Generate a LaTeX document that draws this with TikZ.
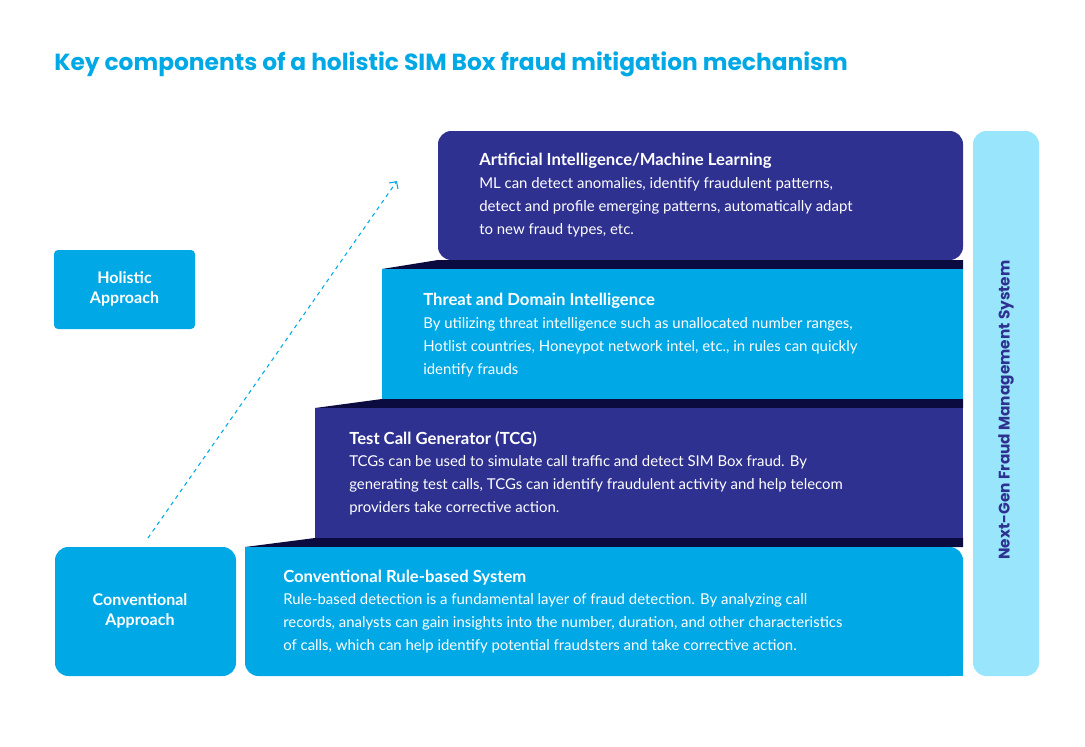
\documentclass[tikz,border=0pt]{standalone}
\usepackage{fontspec}
\setmainfont{Lato}
\newfontfamily\tf{Poppins}
\usetikzlibrary{arrows.meta}
\definecolor{navy}{HTML}{2E3190}
\definecolor{sky}{HTML}{00A9E6}
\definecolor{band}{HTML}{0B0B40}
\definecolor{pale}{HTML}{99E5FC}
\begin{document}
\begin{tikzpicture}[x=0.75pt,y=-0.75pt,
  txt/.style={anchor=west,text=white,align=left,inner sep=0pt,font=\fontsize{11.2}{17.25}\selectfont},
  hd/.style={anchor=west,text=white,inner sep=0pt,font=\fontsize{12.5}{15}\selectfont\bfseries},
  side/.style={text=white,align=center,font=\fontsize{12}{15}\selectfont\bfseries}]
\useasboundingbox (0,0) rectangle (1085,746);
\node[anchor=west,text=sky,inner sep=0pt,font=\tf\fontsize{17.5}{20}\selectfont\bfseries] (title) at (54,64) {Key components of a holistic SIM Box fraud mitigation mechanism};
% right bar
\fill[pale,rounded corners=10] (973,131) rectangle (1039,676);
\node[rotate=90,text=navy,font=\tf\fontsize{11.5}{14}\selectfont\bfseries] (ng) at (1006,410) {Next-Gen Fraud Management System};
% steps
\fill[navy,rounded corners=10] (438,260) -- (438,131) -- (963,131) -- (963,260) -- cycle;
\fill[band] (382,269) -- (438,260) -- (963,260) -- (963,269) -- cycle;
\fill[sky] (382,269) rectangle (963,399);
\fill[band] (315,408) -- (382,399) -- (963,399) -- (963,408) -- cycle;
\fill[navy] (315,408) rectangle (963,538);
\fill[band] (245,547) -- (315,538) -- (963,538) -- (963,547) -- cycle;
\fill[sky,rounded corners=10] (245,547) -- (245,676) -- (963,676) -- (963,547) -- cycle;
\fill[sky] (245,547) rectangle (260,560);
\fill[sky] (950,660) rectangle (963,676);
% texts
\node[hd] (h1) at (479,161) {Artificial Intelligence/Machine Learning};
\node[txt,anchor=north west] (b1) at (479,177) {ML can detect anomalies, identify fraudulent patterns,\\detect and profile emerging patterns, automatically adapt\\to new fraud types, etc.};
\node[hd] (h2) at (423,301) {Threat and Domain Intelligence};
\node[txt,anchor=north west] (b2) at (423,317) {By utilizing threat intelligence such as unallocated number ranges,\\Hotlist countries, Honeypot network intel, etc., in rules can quickly\\identify frauds};
\node[hd] (h3) at (349,439) {Test Call Generator (TCG)};
\node[txt,anchor=north west] (b3) at (349,455) {TCGs can be used to simulate call traffic and detect SIM Box fraud. By\\generating test calls, TCGs can identify fraudulent activity and help telecom\\providers take corrective action.};
\node[hd] (h4) at (283,578) {Conventional Rule-based System};
\node[txt,anchor=north west] (b4) at (283,593) {Rule-based detection is a fundamental layer of fraud detection. By analyzing call\\records, analysts can gain insights into the number, duration, and other characteristics\\of calls, which can help identify potential fraudsters and take corrective action.};
% left boxes
\fill[sky,rounded corners=3] (54,250) rectangle (195,329);
\node[side] (ha) at (124.5,289) {Holistic\\Approach};
\fill[sky,rounded corners=10] (55,547) rectangle (236,676);
\node[side] (ca) at (140,611) {Conventional\\Approach};
\coordinate (s) at (148,538);
\coordinate (e) at (397,181);
\draw[sky,dashed,line width=0.8pt,-{Straight Barb[length=4pt]}] (s) -- (e);
\end{tikzpicture}
\end{document}
